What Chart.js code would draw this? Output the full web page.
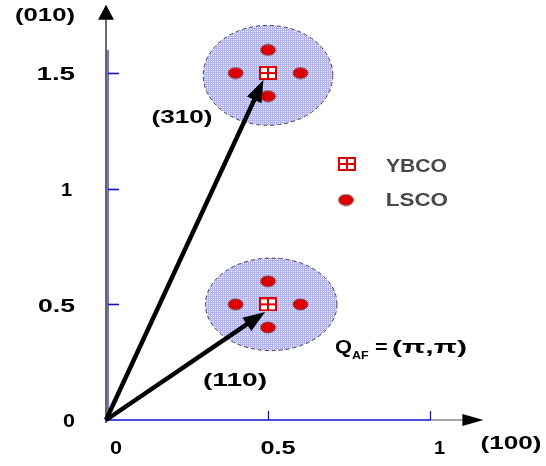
<!DOCTYPE html>
<html><head><meta charset="utf-8">
<script src="https://cdn.jsdelivr.net/npm/chart.js@4.4.0/dist/chart.umd.min.js"></script>
<style>html,body{margin:0;padding:0;background:#fff}canvas{display:block}</style>
</head><body>
<canvas id="c" width="546" height="466" style="width:546px;height:466px"></canvas>
<script>
// ---- data ----
const xTicks = [0, 0.5, 1];
const yTicks = [0, 0.5, 1, 1.5];
const xTickLabels = ['0', '0.5', '1'];
const yTickLabels = ['0', '0.5', '1', '1.5'];
const ybcoX = [0.5, 0.5];
const ybcoY = [1.5, 0.5];
const lscoX = [0.5, 0.4, 0.6, 0.5, 0.5, 0.4, 0.6, 0.5];
const lscoY = [1.6, 1.5, 1.5, 1.4, 0.6, 0.5, 0.5, 0.4];
const zoneX = [0.5, 0.51];
const zoneY = [1.49, 0.5];
const zoneRX = [0.2, 0.203];
const zoneRY = [0.216, 0.2];
const arrowTipX = [0.486, 0.491];
const arrowTipY = [1.47, 0.467];
const arrowLabels = ['(310)', '(110)'];
const legendLabels = ['YBCO', 'LSCO'];

// ---- marker images ----
function makeDot(){
  const c=document.createElement('canvas'); c.width=17; c.height=13;
  const g=c.getContext('2d');
  g.beginPath(); g.ellipse(8.5,6.5,7.5,5.5,0,0,Math.PI*2);
  g.fillStyle='#dd0000'; g.fill(); g.lineWidth=1; g.strokeStyle='#7a5050'; g.stroke();
  return c;
}
function makeSquare(){
  const c=document.createElement('canvas'); c.width=18; c.height=14;
  const g=c.getContext('2d');
  g.fillStyle='#fff'; g.fillRect(1,1,16,12);
  g.strokeStyle='#dd0000'; g.lineWidth=2;
  g.strokeRect(1,1,16,12);
  g.beginPath(); g.moveTo(9,1); g.lineTo(9,13); g.moveTo(1,7); g.lineTo(17,7); g.stroke();
  return c;
}
const dotImg = makeDot();
const sqImg = makeSquare();

function makePattern(ctx){
  const c=document.createElement('canvas'); c.width=2; c.height=2;
  const g=c.getContext('2d');
  g.fillStyle='#b4b4ec'; g.fillRect(0,0,2,2);
  g.fillStyle='#eeeefc'; g.fillRect(1,1,1,1);
  return ctx.createPattern(c,'repeat');
}

function fitText(ctx,t,x,cy,w,align,size,color,weight){
  ctx.save();
  ctx.font=(weight||'bold')+' '+size+'px "Liberation Sans", Arial, sans-serif';
  ctx.fillStyle=color||'#000';
  ctx.textBaseline='alphabetic'; ctx.textAlign='left';
  const m=ctx.measureText(t);
  const iw=m.actualBoundingBoxLeft+m.actualBoundingBoxRight;
  const sx=w/iw;
  ctx.translate(x, cy + size*0.358);
  ctx.scale(sx,1);
  let L = align==='center' ? -(w/2)/sx : (align==='right' ? -w/sx : 0);
  ctx.fillText(t, L + m.actualBoundingBoxLeft, 0);
  ctx.restore();
}

const BLUE='#1010c8';

const drawPlugin = {
  id:'drawPlugin',
  beforeDatasetsDraw(chart){
    const ctx=chart.ctx, xs=chart.scales.x, ys=chart.scales.y;
    const x0=xs.getPixelForValue(0), y0=ys.getPixelForValue(0);
    // zones
    const pat=makePattern(ctx);
    for(let i=0;i<zoneX.length;i++){
      const cx=xs.getPixelForValue(zoneX[i]), cy=ys.getPixelForValue(zoneY[i]);
      const rx=xs.getPixelForValue(zoneX[i]+zoneRX[i])-cx;
      const ry=cy-ys.getPixelForValue(zoneY[i]+zoneRY[i]);
      ctx.save();
      ctx.beginPath(); ctx.ellipse(cx,cy,rx,ry,0,0,Math.PI*2);
      ctx.fillStyle=pat; ctx.fill();
      ctx.setLineDash([4,3]); ctx.lineWidth=1; ctx.strokeStyle='#444'; ctx.stroke();
      ctx.restore();
    }
    ctx.save();
    // y axis black line + arrow
    const yTop=ys.getPixelForValue(1.73), yTip=ys.getPixelForValue(1.795);
    ctx.strokeStyle='#000'; ctx.lineWidth=1.2;
    ctx.beginPath(); ctx.moveTo(x0, y0+3); ctx.lineTo(x0, yTop); ctx.stroke();
    ctx.fillStyle='#000';
    ctx.beginPath(); ctx.moveTo(x0-8,yTop); ctx.lineTo(x0+8,yTop); ctx.lineTo(x0,yTip); ctx.closePath(); ctx.fill();
    // y axis blue line
    ctx.strokeStyle=BLUE; ctx.lineWidth=1.2;
    ctx.beginPath(); ctx.moveTo(x0+2, y0); ctx.lineTo(x0+2, ys.getPixelForValue(1.6)); ctx.stroke();
    ctx.lineWidth=1.6;
    yTicks.forEach(v=>{ if(v===0) return; const p=Math.round(ys.getPixelForValue(v))+0.5;
      ctx.beginPath(); ctx.moveTo(x0+2,p); ctx.lineTo(x0+13,p); ctx.stroke(); });
    // x axis
    const x1=xs.getPixelForValue(1), xg=xs.getPixelForValue(1.1), xtip=xs.getPixelForValue(1.165);
    ctx.strokeStyle=BLUE; ctx.lineWidth=1.4;
    ctx.beginPath(); ctx.moveTo(x0,y0); ctx.lineTo(x1,y0); ctx.stroke();
    ctx.strokeStyle='#8a8a8a'; ctx.lineWidth=1.6;
    ctx.beginPath(); ctx.moveTo(x1,y0); ctx.lineTo(xg,y0); ctx.stroke();
    ctx.fillStyle='#000';
    ctx.beginPath(); ctx.moveTo(xg,y0-6); ctx.lineTo(xg,y0+6); ctx.lineTo(xtip,y0); ctx.closePath(); ctx.fill();
    ctx.strokeStyle=BLUE; ctx.lineWidth=1.2;
    xTicks.forEach(v=>{ if(v===0) return; const p=Math.round(xs.getPixelForValue(v))+0.5;
      ctx.beginPath(); ctx.moveTo(p,y0); ctx.lineTo(p,y0-9); ctx.stroke(); });
    ctx.restore();
  },
  afterDatasetDraw(chart,args){
    if(args.index!==1) return;
    const ctx=chart.ctx, xs=chart.scales.x, ys=chart.scales.y;
    const ox=xs.getPixelForValue(0), oy=ys.getPixelForValue(0);
    ctx.save();
    for(let i=0;i<arrowTipX.length;i++){
      const tx=xs.getPixelForValue(arrowTipX[i]), ty=ys.getPixelForValue(arrowTipY[i]);
      const dx=tx-ox, dy=ty-oy, L=Math.hypot(dx,dy), ux=dx/L, uy=dy/L;
      const hl=22, hw=8;
      const bx=tx-ux*hl, by=ty-uy*hl;
      ctx.strokeStyle='#000'; ctx.lineWidth=4.5; ctx.lineCap='butt';
      ctx.beginPath(); ctx.moveTo(ox,oy); ctx.lineTo(bx+ux*2,by+uy*2); ctx.stroke();
      ctx.fillStyle='#000';
      ctx.beginPath(); ctx.moveTo(tx,ty); ctx.lineTo(bx-uy*hw,by+ux*hw); ctx.lineTo(bx+uy*hw,by-ux*hw); ctx.closePath(); ctx.fill();
    }
    ctx.restore();
  },
  afterDraw(chart){
    const ctx=chart.ctx, xs=chart.scales.x, ys=chart.scales.y;
    const x0=xs.getPixelForValue(0), y0=ys.getPixelForValue(0);
    // y tick labels
    yTicks.forEach((v,i)=>{
      const t=yTickLabels[i];
      const w = t.length===1 ? (t==='1'?10:12) : 37;
      fitText(ctx,t,x0-31-(t==='1'?3:0),ys.getPixelForValue(v)+1,w,'right',18);
    });
    // x tick labels
    xTicks.forEach((v,i)=>{
      const t=xTickLabels[i];
      const w = t.length===1 ? (t==='1'?10:12) : 35;
      fitText(ctx,t,xs.getPixelForValue(v)+10,y0+28,w,'center',18);
    });
    // axis titles
    fitText(ctx,'(010)',45,15,60,'center',18);
    fitText(ctx,'(100)',511,443,61,'center',18);
    // arrow labels
    fitText(ctx,arrowLabels[0],182,117,61,'center',18);
    fitText(ctx,arrowLabels[1],235,380,64,'center',18);
    // Q label
    fitText(ctx,'Q',335,347,17,'left',18);
    fitText(ctx,'AF',352,355,17,'left',11);
    fitText(ctx,'=',375,347,12,'left',18);
    fitText(ctx,'(\u03c0,\u03c0)',392,347,75,'left',18);
    // legend
    ctx.drawImage(sqImg,347-9,164-7);
    ctx.drawImage(dotImg,346-8.5,200-6.5);
    fitText(ctx,legendLabels[0],386,166,61,'left',18,'#484848');
    fitText(ctx,legendLabels[1],387,200,61,'left',18,'#484848');
  }
};

new Chart(document.getElementById('c').getContext('2d'),{
  type:'scatter',
  data:{datasets:[
    {label:legendLabels[0], data:ybcoX.map((x,i)=>({x:x,y:ybcoY[i]})), pointStyle:sqImg, pointRadius:9, clip:false},
    {label:legendLabels[1], data:lscoX.map((x,i)=>({x:x,y:lscoY[i]})), pointStyle:dotImg, pointRadius:8, clip:false}
  ]},
  options:{
    responsive:false, animation:false, devicePixelRatio:1, events:[],
    layout:{padding:{left:106,right:116,top:15.2,bottom:46}},
    scales:{
      x:{type:'linear',min:0,max:1,display:false},
      y:{type:'linear',min:0,max:1.75,display:false}
    },
    plugins:{legend:{display:false},tooltip:{enabled:false}}
  },
  plugins:[drawPlugin]
});
</script>
</body></html>
